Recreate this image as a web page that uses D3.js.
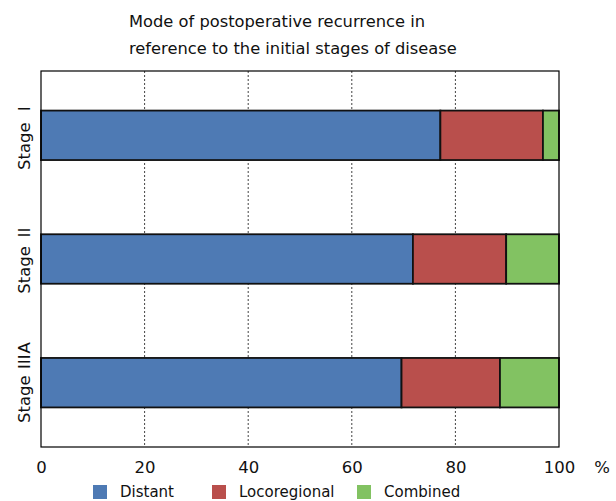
<!DOCTYPE html>
<html>
<head>
<meta charset="utf-8">
<script src="https://cdn.jsdelivr.net/npm/d3@7"></script>
<style>
  html, body { margin: 0; padding: 0; background: #fff; }
  svg { display: block; }
  text { font-family: "DejaVu Sans", Tahoma, sans-serif; fill: #111; }
</style>
</head>
<body>
<svg id="chart" width="616" height="501"></svg>
<script>
// ---- data ----
const titleLines = ["Mode of postoperative recurrence in", "reference to the initial stages of disease"];
const categories = ["Stage \u2160", "Stage \u2161", "Stage \u2162A"];
const seriesNames = ["Distant", "Locoregional", "Combined"];
const distant = [77.1, 71.8, 69.6];
const locoregional = [19.8, 18.0, 19.0];
const combined = [3.1, 10.2, 11.4];
const xTicks = [0, 20, 40, 60, 80, 100];
const colors = ["#4E7AB4", "#B94F4C", "#82C262"];

const svg = d3.select("#chart");
const margin = {left: 41, right: 57, top: 71, bottom: 54};
const W = 616, H = 501;

const x = d3.scaleLinear().domain([0, 100]).range([margin.left, W - margin.right]);
const y = d3.scaleBand().domain(categories).range([margin.top, H - margin.bottom]).paddingInner(0.6).paddingOuter(0.32);

// title
svg.append("g").selectAll("text").data(titleLines).join("text")
  .attr("x", 129).attr("y", (d, i) => 27 + i * 27)
  .attr("font-size", 16.3)
  .text(d => d);

// gridlines
svg.append("g").selectAll("line").data(xTicks.filter(t => t > 0 && t < 100)).join("line")
  .attr("x1", d => x(d)).attr("x2", d => x(d))
  .attr("y1", margin.top).attr("y2", H - margin.bottom)
  .attr("stroke", "#444").attr("stroke-width", 1).attr("stroke-dasharray", "2,2");

// stacked bars
const rows = categories.map((c, i) => ({cat: c, Distant: distant[i], Locoregional: locoregional[i], Combined: combined[i]}));
const stack = d3.stack().keys(seriesNames)(rows);
const gBars = svg.append("g");
stack.forEach((layer, li) => {
  gBars.append("g").selectAll("rect").data(layer).join("rect")
    .attr("x", d => x(d[0]))
    .attr("width", d => x(d[1]) - x(d[0]))
    .attr("y", d => y(d.data.cat))
    .attr("height", y.bandwidth())
    .attr("fill", colors[li])
    .attr("stroke", "#111").attr("stroke-width", 1.8);
});

// plot frame
svg.append("rect")
  .attr("x", margin.left).attr("y", margin.top)
  .attr("width", x(100) - x(0)).attr("height", H - margin.bottom - margin.top)
  .attr("fill", "none").attr("stroke", "#000").attr("stroke-width", 1.2);

// x axis labels
const xAxis = d3.axisBottom(x).tickValues(xTicks).tickSize(0).tickPadding(14).tickFormat(d3.format("d"));
const gx = svg.append("g").attr("transform", `translate(0,${H - margin.bottom})`).call(xAxis);
gx.select(".domain").remove();
gx.selectAll("text").attr("font-size", 16.5).attr("font-family", "DejaVu Sans, Tahoma, sans-serif").attr("fill", "#111");
svg.append("text").attr("x", 602).attr("y", 468).attr("dominant-baseline", "middle")
  .attr("text-anchor", "middle").attr("font-size", 16.5).text("%");

// y labels (rotated), Roman numerals in a CJK font (full-width look)
const yAxis = d3.axisLeft(y).tickSize(0).tickPadding(0);
const gy = svg.append("g").attr("transform", `translate(${margin.left},0)`).call(yAxis);
gy.select(".domain").remove();
gy.selectAll(".tick text").each(function(d) {
  const t = d3.select(this);
  const parts = d.split(" ");
  t.text(null)
    .attr("x", 0).attr("dy", null)
    .attr("text-anchor", "middle")
    .attr("transform", "translate(-11,0) rotate(-90)")
    .attr("font-size", 16.5)
    .attr("fill", "#111");
  t.append("tspan").attr("font-family", "DejaVu Sans, sans-serif").text(parts[0] + " ");
  const num = parts[1].replace("A", "");
  t.append("tspan").attr("font-family", "'Noto Sans CJK JP', sans-serif").text(num);
  if (parts[1].endsWith("A")) t.append("tspan").attr("font-family", "DejaVu Sans, sans-serif").text("A");
});

// legend
const legendX = [93, 212, 357];
const lg = svg.append("g").selectAll("g").data(seriesNames).join("g")
  .attr("transform", (d, i) => `translate(${legendX[i]},484)`);
lg.append("rect").attr("y", 1).attr("width", 14).attr("height", 14).attr("fill", (d, i) => colors[i]);
lg.append("text").attr("x", 27).attr("y", 8).attr("dominant-baseline", "middle").attr("font-size", 15).text(d => d);
</script>
</body>
</html>
